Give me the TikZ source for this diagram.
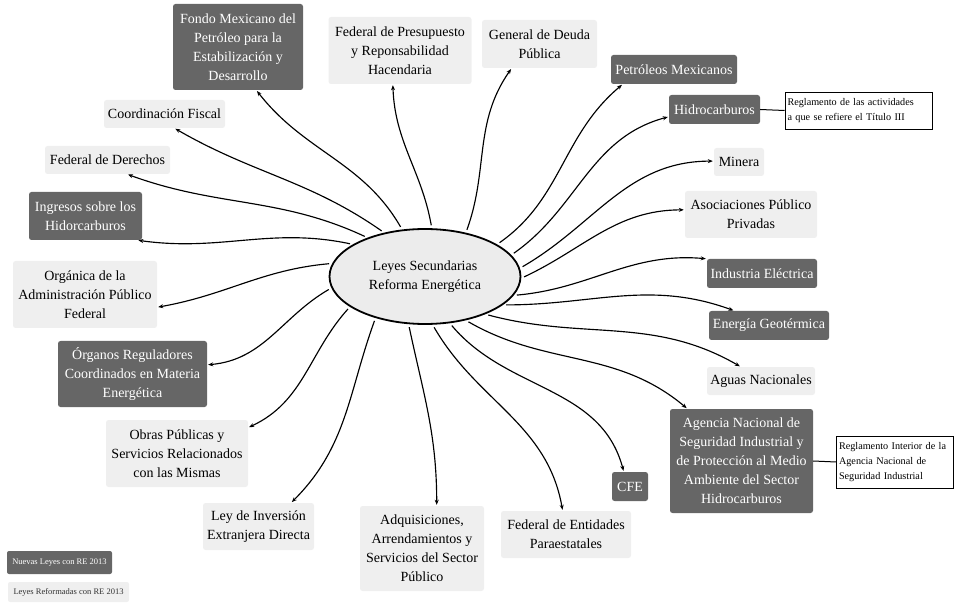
\documentclass[tikz,border=0pt]{standalone}
\usepackage{fontspec}
\setmainfont{Liberation Serif}
\usetikzlibrary{shapes.geometric,arrows.meta}
\definecolor{dk}{RGB}{102,102,102}
\definecolor{lt}{RGB}{239,239,239}
\definecolor{el}{RGB}{236,236,236}
\begin{document}
\begin{tikzpicture}[x=1pt,y=1pt,
 box/.style={rectangle, rounded corners=2.5pt, inner sep=0pt, align=center, font=\fontsize{14}{19}\selectfont},
 dbox/.style={box, fill=dk, text=white},
 lbox/.style={box, fill=lt, text=black},
 notebox/.style={rectangle, draw=black, line width=0.8pt, fill=white, align=left, inner xsep=2.5pt, inner ysep=0pt, font=\fontsize{10.2}{15}\selectfont},
 legbox/.style={rectangle, rounded corners=2pt, inner sep=0pt, align=center, font=\fontsize{8.5}{10}\selectfont},
 conn/.style={line width=1.15pt, -{Stealth[length=5pt,width=4pt]}, shorten <=3pt, shorten >=1pt}
]
\useasboundingbox (0,0) rectangle (954,-604);

\node[ellipse, draw, line width=1.8pt, fill=el, minimum width=191pt, minimum height=95pt, inner sep=0pt, align=center, font=\fontsize{14}{19}\selectfont] (c) at (425,-276.5) {Leyes Secundarias\\Reforma Energética};

\node[dbox, minimum width=130pt, minimum height=86pt] (fondo) at (238,-47) {Fondo Mexicano del\\Petróleo para la\\Estabilización y\\Desarrollo};
\node[lbox, minimum width=143pt, minimum height=67pt] (presup) at (400,-50.5) {Federal de Presupuesto\\y Reponsabilidad\\Hacendaria};
\node[lbox, minimum width=115pt, minimum height=48pt] (deuda) at (539.5,-44) {General de Deuda\\Pública};
\node[dbox, minimum width=126pt, minimum height=29pt] (pemex) at (674,-69.5) {Petróleos Mexicanos};
\node[dbox, minimum width=91pt, minimum height=29pt] (hidro) at (714.5,-109.5) {Hidrocarburos};
\node[notebox, text width=142pt, minimum height=37pt] (note1) at (858.5,-110.5) {Reglamento de las actividades\\a que se refiere el Título III};
\node[lbox, minimum width=50pt, minimum height=28pt] (minera) at (739,-162) {Minera};
\node[lbox, minimum width=132pt, minimum height=47pt] (asoc) at (751,-214.5) {Asociaciones Público\\Privadas};
\node[dbox, minimum width=110pt, minimum height=29pt] (indus) at (762,-273.5) {Industria Eléctrica};
\node[dbox, minimum width=120pt, minimum height=29pt] (geo) at (769,-325.5) {Energía Geotérmica};
\node[lbox, minimum width=108pt, minimum height=28pt] (aguas) at (761,-381) {Aguas Nacionales};
\node[dbox, minimum width=143pt, minimum height=104pt] (agencia) at (741.5,-461) {Agencia Nacional de\\Seguridad Industrial y\\de Protección al Medio\\Ambiente del Sector\\Hidrocarburos};
\node[notebox, text width=112pt, minimum height=52pt] (note2) at (895,-462) {Reglamento Interior de la\\Agencia Nacional de\\Seguridad Industrial};
\node[dbox, minimum width=36pt, minimum height=29pt] (cfe) at (630,-486.5) {CFE};
\node[lbox, minimum width=130pt, minimum height=47pt] (entid) at (566,-534.5) {Federal de Entidades\\Paraestatales};
\node[lbox, minimum width=124pt, minimum height=85pt] (adq) at (422,-548.5) {Adquisiciones,\\Arrendamientos y\\Servicios del Sector\\Público};
\node[lbox, minimum width=111pt, minimum height=47pt] (ley) at (258.5,-526.5) {Ley de Inversión\\Extranjera Directa};
\node[lbox, minimum width=142pt, minimum height=67pt] (obras) at (177,-453.5) {Obras Públicas y\\Servicios Relacionados\\con las Mismas};
\node[dbox, minimum width=149pt, minimum height=66pt] (organos) at (132.5,-374) {Órganos Reguladores\\Coordinados en Materia\\Energética};
\node[lbox, minimum width=144pt, minimum height=67pt] (organica) at (85,-294.5) {Orgánica de la\\Administración Público\\Federal};
\node[dbox, minimum width=113pt, minimum height=48pt] (ingresos) at (85.5,-216) {Ingresos sobre los\\Hidorcarburos};
\node[lbox, minimum width=125pt, minimum height=28pt] (derechos) at (107.5,-160) {Federal de Derechos};
\node[lbox, minimum width=121pt, minimum height=28pt] (coord) at (164.5,-114) {Coordinación Fiscal};

\node[legbox, fill=dk, text=white, minimum width=105pt, minimum height=23pt] (leg1) at (59.5,-562.5) {Nuevas Leyes con RE 2013};
\node[legbox, fill=lt, text=black!80, minimum width=121pt, minimum height=20pt] (leg2) at (68.5,-592) {Leyes Reformadas con RE 2013};

\draw[line width=1pt] (hidro.east) -- (note1.west);
\draw[line width=1pt] (agencia.east) -- (note2.west);

\draw[conn] (c.116.6) to[out=120,in=-52] (fondo.-67.6);
\draw[conn] (c.82) to[out=100,in=-88] (presup.-102);
\draw[conn] (c.47.7) to[out=70,in=-125] (deuda.-139);
\draw[conn] (c.24.3) to[out=35,in=-140] (pemex.-164.5);
\draw[conn] (c.14.8) to[out=35,in=-165] (hidro.-171);
\draw[conn] (c.5.4) to[out=30,in=180] (minera.178);
\draw[conn] (c.-1) to[out=25,in=180] (asoc.176);
\draw[conn] (c.-12) to[out=5,in=175] (indus.north west);
\draw[conn] (c.-20.4) to[out=0,in=160] (geo.157);
\draw[conn] (c.-32) to[out=-15,in=150] (aguas.145);
\draw[conn] (c.-47) to[out=-30,in=140] (agencia.136);
\draw[conn] (c.-62) to[out=-50,in=105] (cfe.113);
\draw[conn] (c.-81) to[out=-60,in=100] (entid.98.6);
\draw[conn] (c.-109.4) to[out=-78,in=90] (adq.71.8);
\draw[conn] (c.-140.3) to[out=-110,in=45] (ley.36);
\draw[conn] (c.-158.3) to[out=-132,in=25] (obras.20.8);
\draw[conn] (c.-173) to[out=-150,in=5] (organos.7.4);
\draw[conn] (c.172) to[out=185,in=10] (organica.-10.7);
\draw[conn] (c.156.9) to[out=168,in=-8] (ingresos.-25);
\draw[conn] (c.146.7) to[out=155,in=-20] (derechos.-36);
\draw[conn] (c.133.7) to[out=145,in=-30] (coord.-55);
\end{tikzpicture}
\end{document}
